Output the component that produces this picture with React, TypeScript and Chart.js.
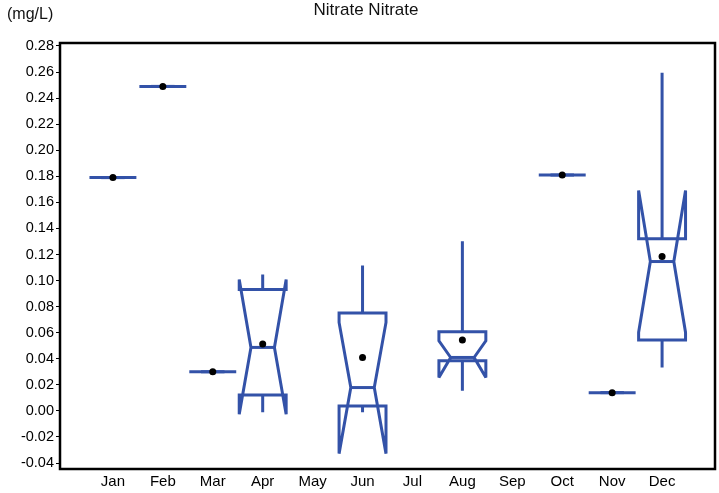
import React, { useEffect, useRef } from "react";
import { Chart, registerables } from "chart.js";

Chart.register(...registerables);

const months = ["Jan", "Feb", "Mar", "Apr", "May", "Jun", "Jul", "Aug", "Sep", "Oct", "Nov", "Dec"];

// Notched box statistics per month (null = no data)
const minVals: (number | null)[] = [0.179, 0.249, 0.030, -0.001, null, -0.001, null, 0.0154, null, 0.181, 0.014, 0.0333];
const q1Vals: (number | null)[] = [0.179, 0.249, 0.030, 0.0121, null, 0.0038, null, 0.0385, null, 0.181, 0.014, 0.0544];
const medianVals: (number | null)[] = [0.179, 0.249, 0.030, 0.0487, null, 0.0179, null, 0.041, null, 0.181, 0.014, 0.1146];
const q3Vals: (number | null)[] = [0.179, 0.249, 0.030, 0.0931, null, 0.0752, null, 0.0608, null, 0.181, 0.014, 0.1321];
const maxVals: (number | null)[] = [0.179, 0.249, 0.030, 0.1046, null, 0.1115, null, 0.1302, null, 0.181, 0.014, 0.2595];
const notchLowVals: (number | null)[] = [0.179, 0.249, 0.030, -0.0025, null, -0.0328, null, 0.0256, null, 0.181, 0.014, 0.0602];
const notchHighVals: (number | null)[] = [0.179, 0.249, 0.030, 0.1008, null, 0.0679, null, 0.0538, null, 0.181, 0.014, 0.1692];
const meanVals: (number | null)[] = [0.179, 0.249, 0.030, 0.0513, null, 0.041, null, 0.0544, null, 0.181, 0.014, 0.1185];

const yTicks = [-0.04, -0.02, 0.0, 0.02, 0.04, 0.06, 0.08, 0.1, 0.12, 0.14, 0.16, 0.18, 0.2, 0.22, 0.24, 0.26, 0.28];

const TITLE = "Nitrate Nitrate";
const UNIT = "(mg/L)";
const BOX_COLOR = "#3352A8";
const BOX_HALF = 0.47;
const NOTCH_RATIO = 0.5;
const FONT = "Arial, 'Liberation Sans', Helvetica, sans-serif";

const boxPlugin = {
  id: "notchedBoxes",
  beforeDatasetsDraw(chart: any) {
    const { ctx } = chart;
    const xs = chart.scales.x;
    const ys = chart.scales.y;
    ctx.save();
    ctx.strokeStyle = BOX_COLOR;
    ctx.lineWidth = 3;
    ctx.lineJoin = "miter";
    ctx.miterLimit = 2.5;
    ctx.lineCap = "butt";
    months.forEach((_, i) => {
      const med = medianVals[i];
      if (med == null) return;
      const cx = xs.getPixelForValue(i);
      const l = xs.getPixelForValue(i - BOX_HALF);
      const r = xs.getPixelForValue(i + BOX_HALF);
      const nl = xs.getPixelForValue(i - BOX_HALF * NOTCH_RATIO);
      const nr = xs.getPixelForValue(i + BOX_HALF * NOTCH_RATIO);
      const yq1 = ys.getPixelForValue(q1Vals[i] as number);
      const yq3 = ys.getPixelForValue(q3Vals[i] as number);
      const ym = ys.getPixelForValue(med);
      const ynl = ys.getPixelForValue(notchLowVals[i] as number);
      const ynh = ys.getPixelForValue(notchHighVals[i] as number);
      const ymin = ys.getPixelForValue(minVals[i] as number);
      const ymax = ys.getPixelForValue(maxVals[i] as number);

      // whiskers
      ctx.beginPath();
      ctx.moveTo(cx, yq3);
      ctx.lineTo(cx, ymax);
      ctx.moveTo(cx, yq1);
      ctx.lineTo(cx, ymin);
      ctx.stroke();

      // notched box outline
      ctx.beginPath();
      ctx.moveTo(l, yq1);
      ctx.lineTo(l, ynl);
      ctx.lineTo(nl, ym);
      ctx.lineTo(l, ynh);
      ctx.lineTo(l, yq3);
      ctx.lineTo(r, yq3);
      ctx.lineTo(r, ynh);
      ctx.lineTo(nr, ym);
      ctx.lineTo(r, ynl);
      ctx.lineTo(r, yq1);
      ctx.closePath();
      ctx.stroke();

      // median
      ctx.beginPath();
      ctx.moveTo(nl, ym);
      ctx.lineTo(nr, ym);
      ctx.stroke();
    });
    ctx.restore();
  },
  afterDraw(chart: any) {
    const { ctx, chartArea } = chart;
    ctx.save();
    ctx.strokeStyle = "#000";
    ctx.lineWidth = 2.5;
    ctx.strokeRect(chartArea.left, chartArea.top, chartArea.right - chartArea.left, chartArea.bottom - chartArea.top);
    ctx.fillStyle = "#111";
    ctx.textBaseline = "middle";
    ctx.font = `17px ${FONT}`;
    ctx.textAlign = "center";
    ctx.fillText(TITLE, 366, 10);
    ctx.font = `16px ${FONT}`;
    ctx.textAlign = "left";
    ctx.fillText(UNIT, 7, 15);
    ctx.restore();
  },
};

export default function App() {
  const canvasRef = useRef<HTMLCanvasElement | null>(null);

  useEffect(() => {
    if (!canvasRef.current) return;
    const meanPoints = months
      .map((_, i) => (meanVals[i] == null ? null : { x: i, y: meanVals[i] as number }))
      .filter((p) => p !== null) as { x: number; y: number }[];

    const chart = new Chart(canvasRef.current, {
      type: "scatter",
      data: {
        datasets: [
          {
            label: "Mean",
            data: meanPoints,
            pointRadius: 3.5,
            pointBackgroundColor: "#000",
            pointBorderWidth: 0,
            showLine: false,
          },
        ],
      },
      options: {
        animation: false,
        responsive: false,
        devicePixelRatio: 1,
        layout: { padding: { top: 43, right: 3, left: 0, bottom: 0 } },
        plugins: {
          legend: { display: false },
          title: { display: false },
          tooltip: { enabled: false },
        },
        scales: {
          x: {
            type: "linear",
            min: -1.06,
            max: 12.06,
            afterBuildTicks: (s: any) => {
              s.ticks = months.map((_, i) => ({ value: i }));
            },
            afterFit: (s: any) => {
              s.height = 24;
            },
            grid: { display: false, drawTicks: false },
            border: { display: false },
            ticks: {
              autoSkip: false,
              maxRotation: 0,
              padding: 4,
              color: "#000",
              font: { family: FONT, size: 15 },
              callback: (v: any) => months[Math.round(Number(v))] ?? "",
            },
          },
          y: {
            type: "linear",
            min: -0.0446,
            max: 0.2823,
            afterBuildTicks: (s: any) => {
              s.ticks = yTicks.map((v) => ({ value: v }));
            },
            afterFit: (s: any) => {
              s.width = 60;
            },
            grid: { drawOnChartArea: false, drawTicks: true, tickLength: 4, color: "#000", lineWidth: 1 },
            border: { display: false },
            ticks: {
              padding: 2,
              color: "#000",
              font: { family: FONT, size: 14.5 },
              callback: (v: any) => Number(v).toFixed(2),
            },
          },
        },
      },
      plugins: [boxPlugin],
    } as any);

    return () => chart.destroy();
  }, []);

  return (
    <div style={{ position: "fixed", left: 0, top: 0, width: 719, height: 493, background: "#fff" }}>
      <canvas ref={canvasRef} width={719} height={493} />
    </div>
  );
}
